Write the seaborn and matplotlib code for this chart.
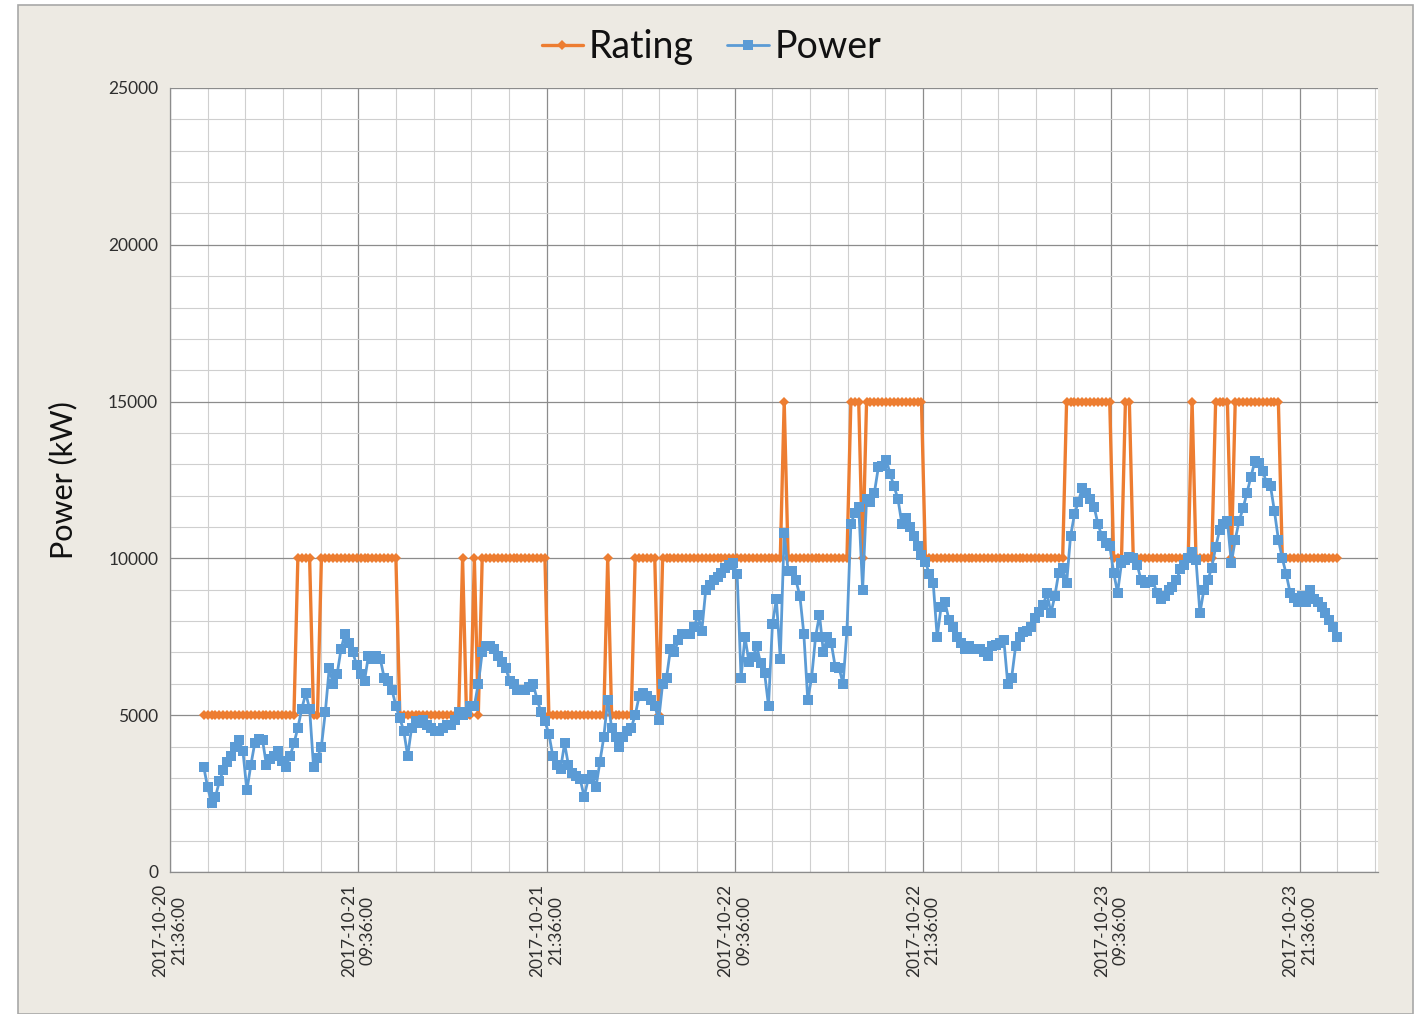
import numpy as np
import pandas as pd
import matplotlib
matplotlib.use("Agg")
import matplotlib.pyplot as plt
import matplotlib.dates as mdates
from matplotlib.patches import Rectangle
from matplotlib.ticker import FixedLocator, MultipleLocator
import seaborn as sns

# 15-minute samples, 2017-10-20 23:45 -> 2017-10-24 00:00
START = "2017-10-20 23:45"
N_POINTS = 290

power_kw = [
    3350, 2700, 2200, 2400, 2900, 3250, 3500, 3700, 4000, 4200,
    3850, 2600, 3400, 4100, 4250, 4200, 3400, 3600, 3700, 3850,
    3550, 3350, 3700, 4100, 4600, 5200, 5700, 5200, 3350, 3650,
    4000, 5100, 6500, 6000, 6300, 7100, 7600, 7300, 7000, 6600,
    6300, 6100, 6900, 6800, 6900, 6800, 6200, 6100, 5800, 5300,
    4900, 4500, 3700, 4600, 4800, 4750, 4850, 4700, 4600, 4500,
    4500, 4600, 4700, 4700, 4850, 5100, 5000, 5100, 5300, 5300,
    6000, 7000, 7200, 7200, 7100, 6900, 6700, 6500, 6100, 6000,
    5800, 5800, 5800, 5900, 6000, 5500, 5100, 4800, 4400, 3700,
    3400, 3300, 4100, 3400, 3150, 3050, 2950, 2400, 2950, 3100,
    2700, 3500, 4300, 5500, 4600, 4300, 4000, 4300, 4500, 4600,
    5000, 5600, 5700, 5600, 5500, 5300, 4850, 6000, 6200, 7100,
    7000, 7400, 7600, 7600, 7600, 7800, 8200, 7700, 9000, 9150,
    9300, 9400, 9550, 9700, 9800, 9850, 9500, 6200, 7500, 6700,
    6850, 7200, 6650, 6350, 5300, 7900, 8700, 6800, 10800, 9600,
    9600, 9300, 8800, 7600, 5500, 6200, 7500, 8200, 7000, 7500,
    7300, 6550, 6500, 6000, 7700, 11100, 11450, 11650, 9000, 11900,
    11800, 12100, 12900, 12950, 13150, 12700, 12300, 11900, 11100, 11300,
    11000, 10700, 10400, 10100, 9900, 9500, 9200, 7500, 8450, 8600,
    8050, 7800, 7500, 7300, 7100, 7200, 7100, 7100, 7100, 7000,
    6900, 7200, 7250, 7300, 7400, 6000, 6200, 7200, 7500, 7650,
    7700, 7800, 8100, 8300, 8500, 8900, 8250, 8800, 9550, 9700,
    9200, 10700, 11400, 11800, 12250, 12100, 11900, 11650, 11100, 10700,
    10500, 10400, 9550, 8900, 9850, 9950, 10050, 10000, 9800, 9300,
    9200, 9250, 9300, 8900, 8700, 8800, 9000, 9100, 9300, 9650,
    9800, 10000, 10200, 9950, 8250, 9000, 9300, 9700, 10350, 10900,
    11100, 11200, 9850, 10600, 11200, 11600, 12100, 12600, 13100, 13050,
    12800, 12400, 12300, 11500, 10600, 10000, 9500, 8900, 8750, 8600,
    8800, 8600, 9000, 8700, 8600, 8450, 8250, 8050, 7800, 7500,
]

rating_kw = [
    5000, 5000, 5000, 5000, 5000, 5000, 5000, 5000, 5000, 5000,
    5000, 5000, 5000, 5000, 5000, 5000, 5000, 5000, 5000, 5000,
    5000, 5000, 5000, 5000, 10000, 10000, 10000, 10000, 5000, 5000,
    10000, 10000, 10000, 10000, 10000, 10000, 10000, 10000, 10000, 10000,
    10000, 10000, 10000, 10000, 10000, 10000, 10000, 10000, 10000, 10000,
    5000, 5000, 5000, 5000, 5000, 5000, 5000, 5000, 5000, 5000,
    5000, 5000, 5000, 5000, 5000, 5000, 10000, 5000, 5000, 10000,
    5000, 10000, 10000, 10000, 10000, 10000, 10000, 10000, 10000, 10000,
    10000, 10000, 10000, 10000, 10000, 10000, 10000, 10000, 5000, 5000,
    5000, 5000, 5000, 5000, 5000, 5000, 5000, 5000, 5000, 5000,
    5000, 5000, 5000, 10000, 5000, 5000, 5000, 5000, 5000, 5000,
    10000, 10000, 10000, 10000, 10000, 10000, 5000, 10000, 10000, 10000,
    10000, 10000, 10000, 10000, 10000, 10000, 10000, 10000, 10000, 10000,
    10000, 10000, 10000, 10000, 10000, 10000, 10000, 10000, 10000, 10000,
    10000, 10000, 10000, 10000, 10000, 10000, 10000, 10000, 15000, 10000,
    10000, 10000, 10000, 10000, 10000, 10000, 10000, 10000, 10000, 10000,
    10000, 10000, 10000, 10000, 10000, 15000, 15000, 15000, 10000, 15000,
    15000, 15000, 15000, 15000, 15000, 15000, 15000, 15000, 15000, 15000,
    15000, 15000, 15000, 15000, 10000, 10000, 10000, 10000, 10000, 10000,
    10000, 10000, 10000, 10000, 10000, 10000, 10000, 10000, 10000, 10000,
    10000, 10000, 10000, 10000, 10000, 10000, 10000, 10000, 10000, 10000,
    10000, 10000, 10000, 10000, 10000, 10000, 10000, 10000, 10000, 10000,
    15000, 15000, 15000, 15000, 15000, 15000, 15000, 15000, 15000, 15000,
    15000, 15000, 10000, 10000, 10000, 15000, 15000, 10000, 10000, 10000,
    10000, 10000, 10000, 10000, 10000, 10000, 10000, 10000, 10000, 10000,
    10000, 10000, 15000, 10000, 10000, 10000, 10000, 10000, 15000, 15000,
    15000, 15000, 10000, 15000, 15000, 15000, 15000, 15000, 15000, 15000,
    15000, 15000, 15000, 15000, 15000, 10000, 10000, 10000, 10000, 10000,
    10000, 10000, 10000, 10000, 10000, 10000, 10000, 10000, 10000, 10000,
]

y_ticks = [0, 5000, 10000, 15000, 20000, 25000]
x_start = "2017-10-20 21:36"
x_end = "2017-10-24 02:36"

ORANGE = "#ED7D31"
BLUE = "#5B9BD5"
PANEL = "#EDEAE3"


def main():
    times = pd.date_range(START, periods=N_POINTS, freq="15min")
    df = pd.DataFrame({"time": times, "Rating": rating_kw, "Power": power_kw})

    sns.set_theme(style="white")
    plt.rcParams["font.family"] = ["Lato", "DejaVu Sans"]

    fig = plt.figure(figsize=(14.23, 10.14), dpi=100)
    fig.patch.set_facecolor("white")
    fig.patches.append(Rectangle((18 / 1423, 0), (1413 - 18) / 1423, 1 - 5 / 1014,
                                 transform=fig.transFigure, facecolor=PANEL,
                                 edgecolor="#A8A8A8", linewidth=1.2, zorder=-5))

    ax = fig.add_axes([170 / 1423, 1 - 872 / 1014, (1378 - 170) / 1423, (872 - 88) / 1014])
    ax.set_zorder(2)
    ax.set_facecolor("white")

    sns.lineplot(data=df, x="time", y="Rating", ax=ax, color=ORANGE, linewidth=2.4,
                 marker="D", markersize=5, markeredgewidth=0, label="Rating", zorder=3)
    sns.lineplot(data=df, x="time", y="Power", ax=ax, color=BLUE, linewidth=2,
                 marker="s", markersize=6.5, markeredgewidth=0, label="Power", zorder=4)

    ax.set_xlim(pd.Timestamp(x_start), pd.Timestamp(x_end))
    ax.set_ylim(0, 25000)

    major_x = pd.date_range(x_start, periods=7, freq="12h")
    minor_x = pd.date_range(x_start, x_end, freq="144min")
    ax.xaxis.set_major_locator(FixedLocator(mdates.date2num(major_x)))
    ax.xaxis.set_minor_locator(FixedLocator(mdates.date2num(minor_x)))
    ax.xaxis.set_major_formatter(mdates.DateFormatter("%Y-%m-%d\n%H:%M:%S"))
    ax.set_yticks(y_ticks)
    ax.yaxis.set_minor_locator(MultipleLocator(1000))

    ax.grid(which="major", color="#8C8C8C", linewidth=0.9)
    ax.grid(which="minor", color="#CFCFCF", linewidth=0.8)
    ax.set_axisbelow(True)

    for s in ["top", "right"]:
        ax.spines[s].set_visible(False)
    for s in ["left", "bottom"]:
        ax.spines[s].set_color("#8C8C8C")
        ax.spines[s].set_linewidth(0.9)

    ax.tick_params(axis="both", which="major", direction="out", length=5, width=0.8,
                   color="#8C8C8C", labelsize=12.5, labelcolor="#2E2E2E")
    ax.tick_params(axis="both", which="minor", length=0)
    plt.setp(ax.get_xticklabels(), rotation=90, ha="center", va="top")

    ax.set_xlabel("")
    ax.set_ylabel("Power (kW)", fontsize=22, color="#111111", labelpad=22)

    handles, labels = ax.get_legend_handles_labels()
    ax.get_legend().remove()
    leg = fig.legend(handles, labels, loc="center", bbox_to_anchor=(0.5, 1 - 47 / 1014),
                     ncol=2, frameon=False, fontsize=27, handlelength=1.1,
                     handletextpad=0.15, columnspacing=0.9, markerscale=1.0)
    for t in leg.get_texts():
        t.set_color("#111111")

    fig.savefig("out.png", dpi=100, facecolor=fig.get_facecolor())
    plt.close(fig)


if __name__ == "__main__":
    main()
